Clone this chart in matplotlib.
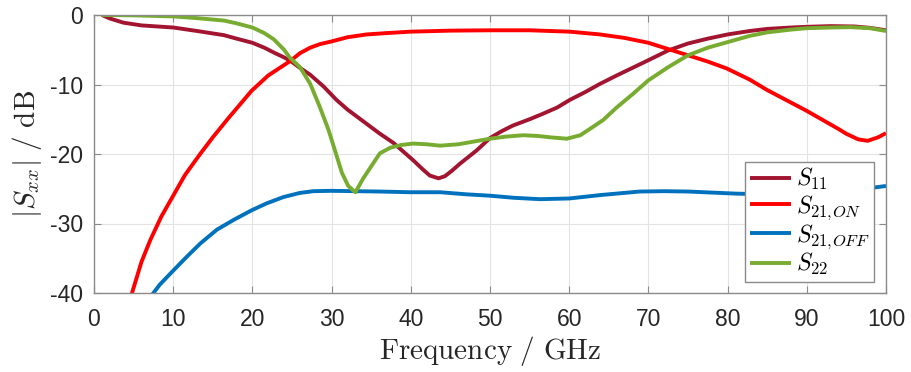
import matplotlib
matplotlib.use("Agg")
import matplotlib.pyplot as plt

plt.rcParams['mathtext.fontset'] = 'cm'
plt.rcParams['font.family'] = ['Liberation Sans', 'DejaVu Sans']

# ---- data ----
s11_x = [1, 2, 3.7, 6, 10, 13, 16.4, 18, 20, 21.5, 22.7, 24, 24.8, 26, 27.3, 29, 30.6, 32, 34, 36,
         37.8, 39, 40.3, 41.5, 42.4, 43.5, 44.3, 45.2, 46.2, 48.3, 50, 51.5, 52.9, 55, 56.7, 58.5,
         60.1, 62, 63.9, 66, 68, 70, 72.5, 75, 77.5, 80, 82.8, 85, 88, 90, 93, 96, 98, 100]
s11_y = [0, -0.5, -1.1, -1.5, -1.8, -2.3, -2.9, -3.4, -4.0, -4.7, -5.4, -6.1, -6.6, -7.6, -8.6, -10.3,
         -12.2, -13.6, -15.3, -17.0, -18.4, -19.6, -20.9, -22.2, -23.1, -23.5, -23.2, -22.4, -21.4,
         -19.5, -17.7, -16.7, -15.9, -15.0, -14.2, -13.3, -12.2, -11.1, -9.9, -8.7, -7.6, -6.5, -5.1,
         -4.1, -3.4, -2.8, -2.3, -2.0, -1.8, -1.7, -1.6, -1.65, -1.85, -2.2]

s21on_x = [4.2, 4.8, 6, 7.1, 8.5, 9.9, 11.5, 13.4, 15, 17, 19.9, 22, 24, 24.8, 26, 27.3, 28.5, 30,
           32, 34.4, 37, 39.9, 45, 50, 55, 60.1, 63.9, 67, 70, 72.5, 75, 77.5, 79.9, 82.8, 85, 88,
           90, 92, 94, 95, 96.5, 97.7, 99, 100]
s21on_y = [-42, -40, -35.5, -32.4, -29.0, -26.2, -23.0, -20.0, -17.6, -14.8, -10.9, -8.7, -7.2,
           -6.6, -5.5, -4.7, -4.2, -3.8, -3.2, -2.8, -2.6, -2.4, -2.25, -2.2, -2.2, -2.4, -2.8,
           -3.3, -4.0, -4.9, -5.8, -6.7, -7.7, -9.3, -10.8, -12.6, -13.8, -15.1, -16.4, -17.1,
           -17.9, -18.1, -17.6, -17.0]

s21off_x = [7.0, 7.5, 8.3, 9.9, 11.7, 13.4, 15.5, 17.6, 19.9, 21.8, 23.9, 26, 27.7, 30, 33, 36,
            39.9, 43.7, 47, 50, 53, 56.3, 60, 64, 68.9, 72, 75, 78, 81, 85, 88, 91, 94, 96, 98, 100]
s21off_y = [-40.8, -40, -38.8, -36.9, -34.8, -32.9, -30.9, -29.5, -28.1, -27.1, -26.2, -25.6,
            -25.35, -25.3, -25.35, -25.4, -25.5, -25.5, -25.8, -26.0, -26.3, -26.5, -26.4, -25.9,
            -25.4, -25.35, -25.4, -25.55, -25.7, -25.8, -25.85, -25.7, -25.4, -25.2, -24.9, -24.6]

s22_x = [1, 5, 10, 13, 16.4, 18, 20, 21.5, 22.7, 24, 24.7, 26, 27.3, 28.5, 29.6, 30.4, 31.3, 32.1,
         33, 34, 35.1, 36.1, 37.4, 38.8, 40.3, 42, 43.7, 46, 48, 50, 52, 54.2, 56, 57.6, 59.7,
         61.4, 63, 64.3, 66, 68, 70, 72.5, 75, 77.5, 80, 82.8, 85, 88, 90, 93, 95.5, 98, 100]
s22_y = [0, -0.05, -0.2, -0.45, -0.8, -1.2, -1.8, -2.6, -3.5, -5.0, -6.1, -7.5, -9.9, -13.2,
         -16.5, -19.4, -22.7, -24.6, -25.5, -23.5, -21.6, -19.9, -19.1, -18.7, -18.5, -18.6,
         -18.8, -18.6, -18.2, -17.8, -17.5, -17.3, -17.4, -17.6, -17.8, -17.3, -16.1, -15.1,
         -13.3, -11.4, -9.4, -7.5, -5.8, -4.7, -3.9, -3.0, -2.5, -2.1, -1.9, -1.8, -1.75, -1.9, -2.3]

labels = [r'$S_{11}$', r'$S_{21,\!ON}$', r'$S_{21,\!OFF}$', r'$S_{22}$']
colors = ['#A2142F', '#FF0000', '#0072BD', '#77AC30']

xticks = [0, 10, 20, 30, 40, 50, 60, 70, 80, 90, 100]
yticks = [0, -10, -20, -30, -40]

# ---- figure ----
fig = plt.figure(figsize=(9.11, 3.72), dpi=100)
ax = fig.add_axes([94/911, 1 - 293/372, 792/911, 278/372])

series = [(s11_x, s11_y), (s21on_x, s21on_y), (s21off_x, s21off_y), (s22_x, s22_y)]
for (xs, ys), c, lab in zip(series, colors, labels):
    ax.plot(xs, ys, color=c, lw=2.8, label=lab, solid_capstyle='butt')

ax.set_xlim(0, 100)
ax.set_ylim(-40, 0)
ax.set_xticks(xticks)
ax.set_yticks(yticks)
ax.set_yticklabels([str(v) for v in yticks])
ax.grid(True, color='#e3e3e3', lw=0.8)
ax.set_axisbelow(True)
for sp in ax.spines.values():
    sp.set_color('#8a8a8a')
    sp.set_linewidth(1.0)
ax.tick_params(direction='in', length=5, width=0.8, color='#8a8a8a',
               top=True, right=True, labelsize=16.5, labelcolor='#262626')
ax.tick_params(axis='x', pad=11)
ax.tick_params(axis='y', pad=8)

ax.set_xlabel(r'$\mathrm{Frequency\ /\ GHz}$', fontsize=21, color='#262626', labelpad=2)
ax.set_ylabel(r'$|S_{xx}|\ /\ \mathrm{dB}$', fontsize=21, color='#262626', labelpad=4)

leg = ax.legend(loc='lower right', bbox_to_anchor=(0.985, 0.04), borderaxespad=0,
                fontsize=17, frameon=True, fancybox=False, handlelength=1.75,
                handletextpad=0.2, labelspacing=0.02, borderpad=0.2)
leg.get_frame().set_edgecolor('#8a8a8a')
leg.get_frame().set_linewidth(1.0)
leg.get_frame().set_alpha(1)

fig.savefig('out.png', dpi=100)
